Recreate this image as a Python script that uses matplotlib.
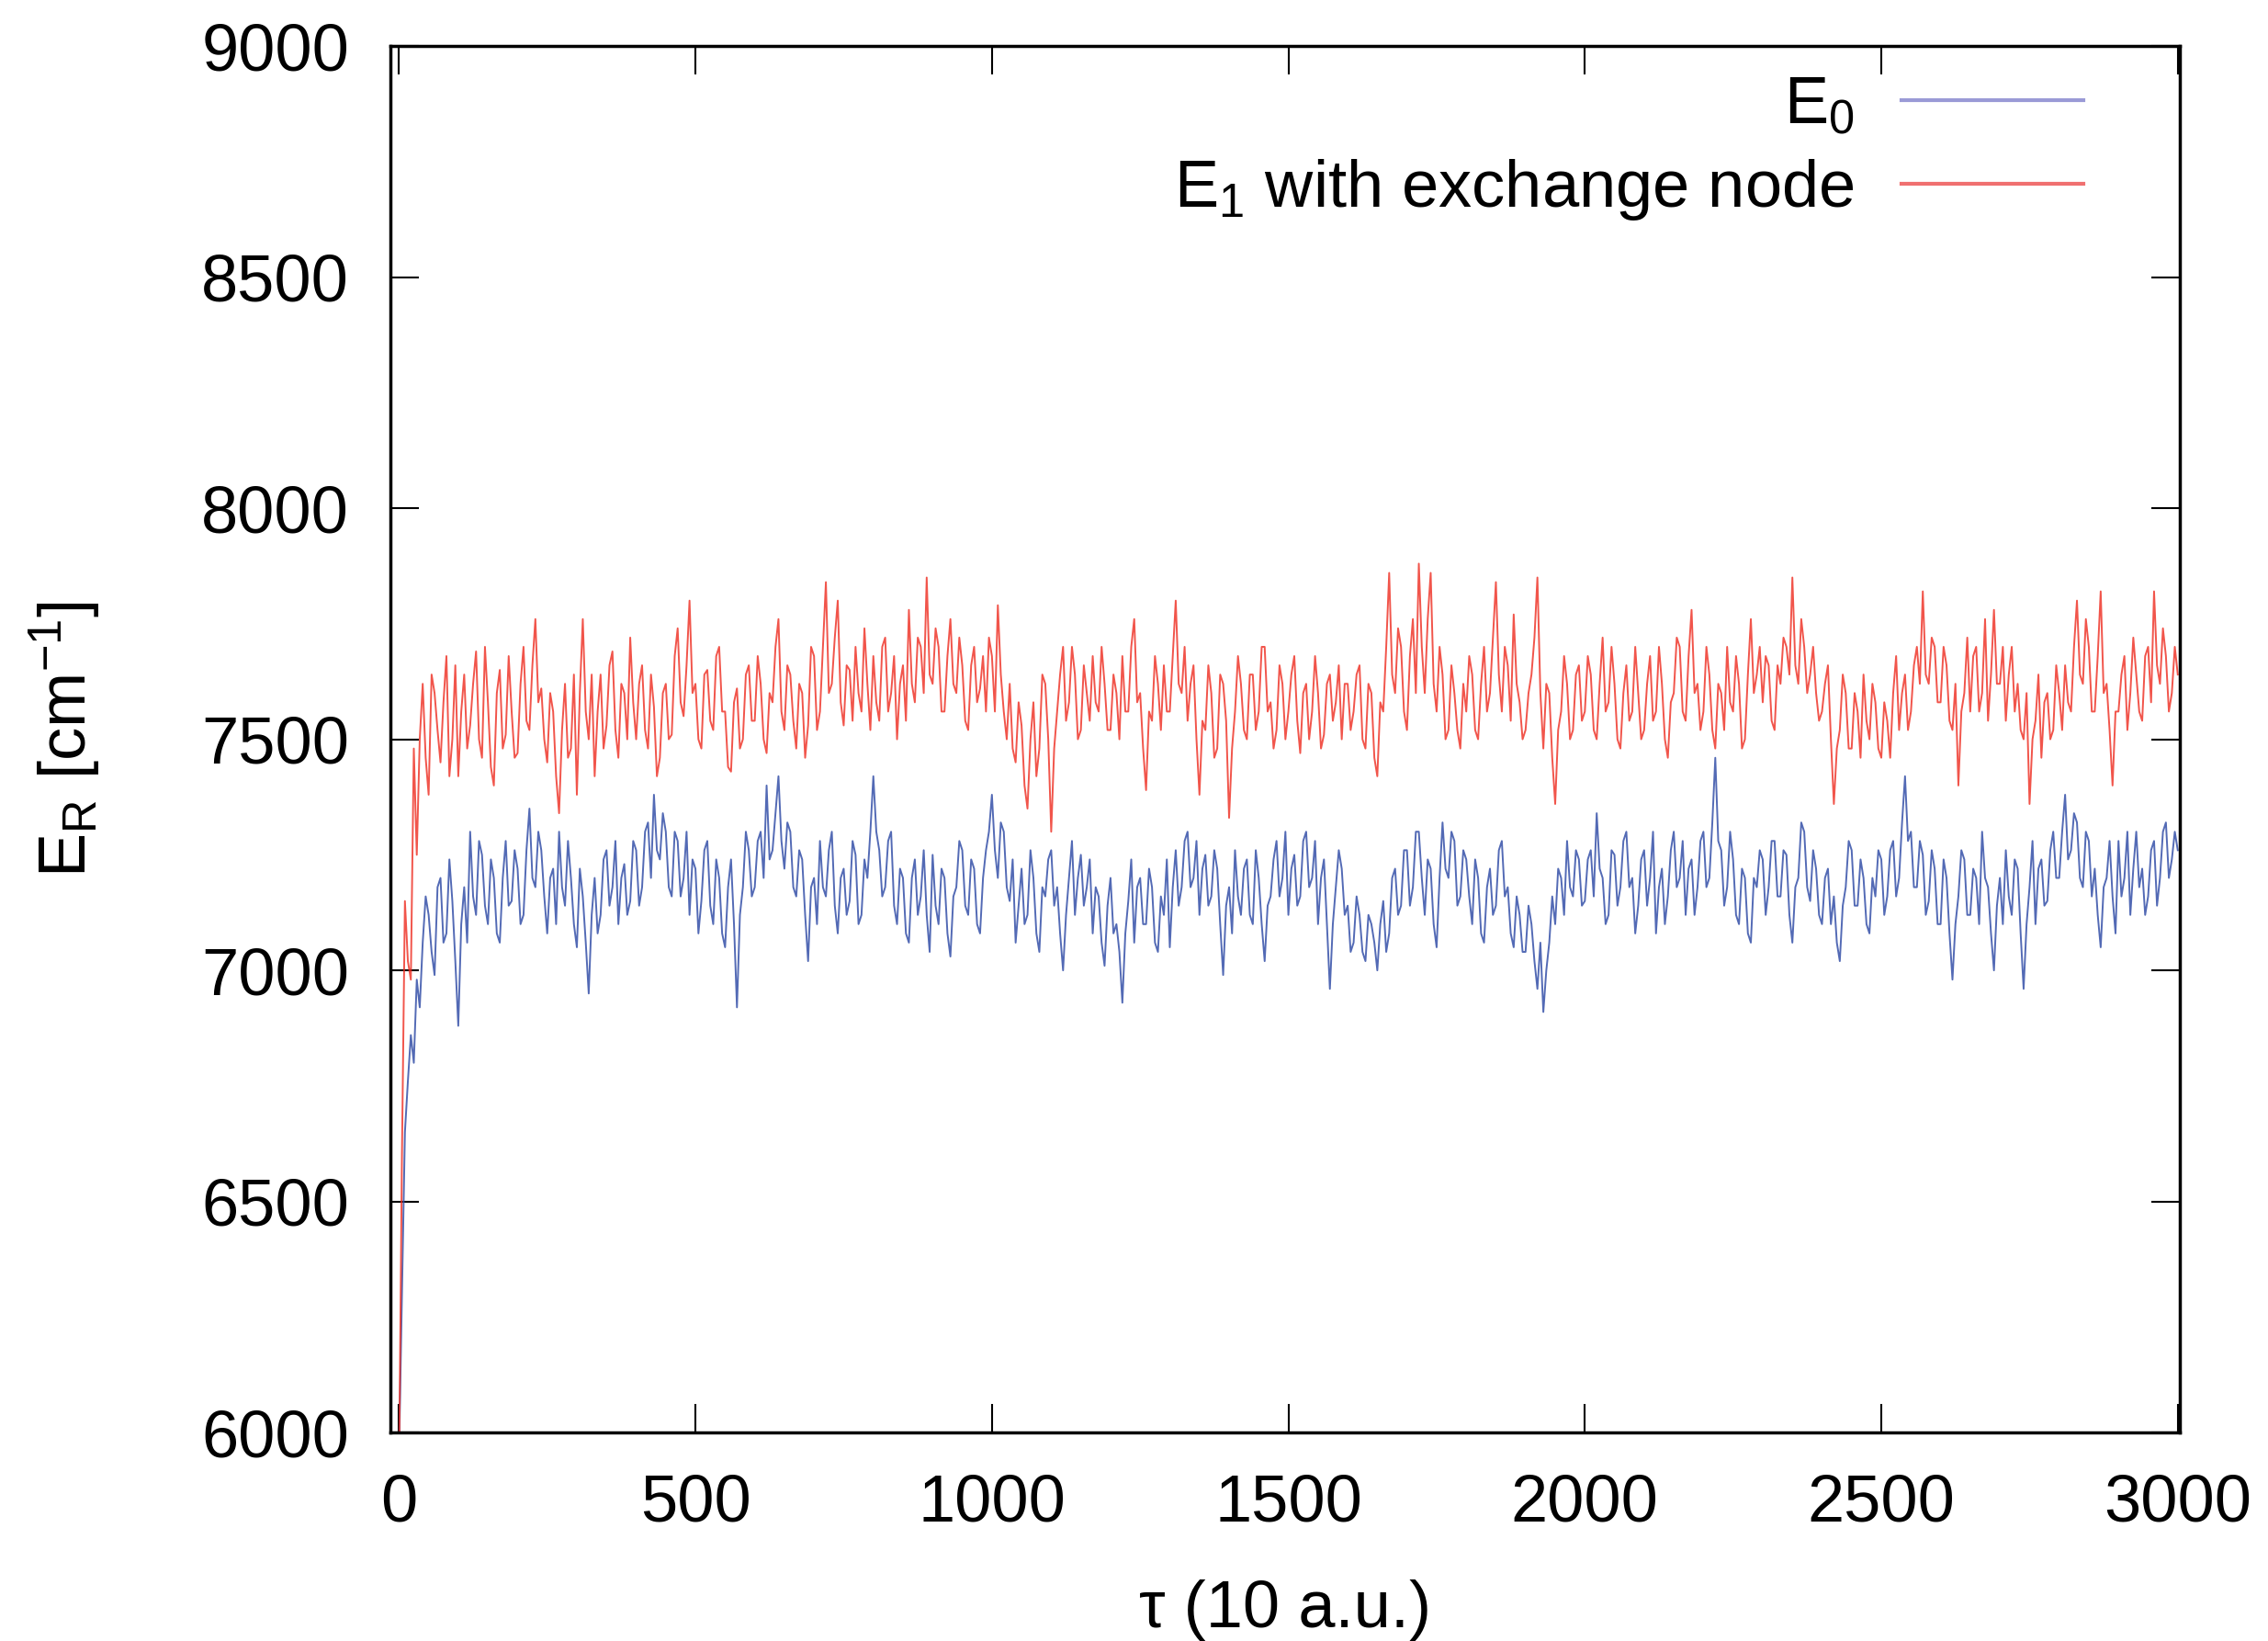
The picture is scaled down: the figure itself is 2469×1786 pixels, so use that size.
import matplotlib.pyplot as plt
from matplotlib.lines import Line2D

plt.rcParams['font.family'] = ['Liberation Sans', 'DejaVu Sans']
plt.rcParams['mathtext.fontset'] = 'custom'
plt.rcParams['mathtext.rm'] = 'Liberation Sans'
plt.rcParams['mathtext.it'] = 'Liberation Sans'

# tau values, one sample every 5 units
tau = list(range(0, 3001, 5))

# E1 with exchange node (red)
e1 = [
    5900, 6600, 7150, 7020, 6980, 7480, 7250, 7500, 7620, 7460, 7380, 7640, 7600, 7520, 7450, 7580, 7680, 7420, 7500, 7660,
    7420, 7560, 7640, 7480, 7530, 7620, 7690, 7500, 7460, 7700, 7580, 7440, 7400, 7600, 7650, 7480, 7510, 7680, 7560, 7460,
    7470, 7620, 7700, 7540, 7520, 7660, 7760, 7580, 7610, 7500, 7450, 7600, 7560, 7420, 7340, 7520, 7620, 7460, 7480, 7640,
    7380, 7600, 7760, 7560, 7500, 7640, 7420, 7560, 7640, 7480, 7530, 7660, 7690, 7520, 7460, 7620, 7600, 7500, 7720, 7580,
    7500, 7620, 7660, 7520, 7480, 7640, 7570, 7420, 7460, 7600, 7620, 7500, 7510, 7680, 7740, 7580, 7550, 7660, 7800, 7600,
    7620, 7500, 7480, 7640, 7650, 7540, 7520, 7680, 7700, 7560, 7560, 7440, 7430, 7580, 7610, 7480, 7500, 7640, 7660, 7540,
    7540, 7680, 7620, 7500, 7470, 7600, 7580, 7700, 7760, 7560, 7520, 7660, 7640, 7540, 7480, 7620, 7600, 7460, 7530, 7700,
    7680, 7520, 7560, 7700, 7840, 7600, 7620, 7720, 7800, 7580, 7530, 7660, 7650, 7540, 7700, 7600, 7560, 7740, 7620, 7520,
    7680, 7580, 7540, 7700, 7720, 7560, 7600, 7680, 7500, 7620, 7660, 7540, 7780, 7620, 7580, 7720, 7700, 7600, 7850, 7640,
    7620, 7740, 7700, 7560, 7560, 7680, 7760, 7620, 7600, 7720, 7660, 7540, 7520, 7660, 7700, 7580, 7610, 7680, 7560, 7720,
    7680, 7560, 7790, 7640, 7560, 7500, 7620, 7480, 7450, 7580, 7530, 7400, 7350, 7500, 7580, 7420, 7480, 7640, 7620, 7500,
    7300, 7480, 7560, 7640, 7700, 7540, 7580, 7700, 7640, 7500, 7520, 7660, 7600, 7540, 7680, 7580, 7560, 7700, 7620, 7520,
    7520, 7640, 7600, 7500, 7680, 7560, 7560, 7700, 7760, 7580, 7600, 7480, 7390, 7560, 7540, 7680, 7620, 7520, 7660, 7560,
    7560, 7680, 7800, 7620, 7600, 7700, 7540, 7620, 7660, 7500, 7380, 7540, 7520, 7660, 7600, 7460, 7480, 7640, 7620, 7540,
    7330, 7480, 7560, 7680, 7620, 7520, 7500, 7640, 7640, 7520, 7560, 7700, 7700, 7560, 7580, 7480, 7520, 7660, 7620, 7500,
    7560, 7640, 7680, 7540, 7470, 7600, 7620, 7500, 7560, 7680, 7600, 7480, 7510, 7620, 7640, 7540, 7580, 7660, 7500, 7620,
    7620, 7520, 7560, 7640, 7660, 7500, 7480, 7620, 7600, 7460, 7420, 7580, 7560, 7700, 7860, 7640, 7600, 7740, 7700, 7560,
    7520, 7680, 7760, 7600, 7880, 7700, 7600, 7760, 7860, 7620, 7560, 7700, 7640, 7500, 7520, 7660, 7600, 7520, 7480, 7620,
    7560, 7680, 7640, 7520, 7500, 7620, 7700, 7560, 7600, 7720, 7840, 7640, 7560, 7700, 7660, 7540, 7770, 7620, 7580, 7500,
    7520, 7600, 7640, 7720, 7850, 7600, 7480, 7620, 7600, 7460, 7360, 7520, 7560, 7680, 7620, 7500, 7520, 7640, 7660, 7540,
    7560, 7680, 7640, 7520, 7500, 7620, 7720, 7560, 7580, 7700, 7620, 7500, 7480, 7600, 7660, 7540, 7560, 7700, 7600, 7500,
    7520, 7620, 7680, 7540, 7560, 7700, 7620, 7500, 7460, 7580, 7600, 7720, 7700, 7560, 7540, 7680, 7780, 7600, 7620, 7520,
    7560, 7700, 7640, 7520, 7480, 7620, 7600, 7520, 7700, 7580, 7560, 7680, 7620, 7480, 7500, 7640, 7760, 7600, 7640, 7700,
    7580, 7680, 7660, 7540, 7520, 7660, 7620, 7720, 7700, 7640, 7850, 7660, 7620, 7760, 7700, 7600, 7640, 7700, 7600, 7540,
    7560, 7620, 7660, 7500, 7360, 7480, 7520, 7640, 7600, 7480, 7480, 7600, 7560, 7460, 7640, 7540, 7500, 7620, 7580, 7480,
    7460, 7580, 7540, 7460, 7600, 7680, 7520, 7600, 7640, 7520, 7560, 7660, 7700, 7620, 7820, 7640, 7620, 7720, 7700, 7580,
    7580, 7700, 7660, 7540, 7520, 7620, 7400, 7560, 7600, 7720, 7560, 7680, 7700, 7560, 7600, 7760, 7540, 7640, 7780, 7620,
    7620, 7700, 7540, 7640, 7700, 7560, 7620, 7520, 7500, 7600, 7360, 7500, 7540, 7640, 7460, 7580, 7600, 7500, 7520, 7660,
    7600, 7520, 7660, 7580, 7560, 7700, 7800, 7640, 7620, 7760, 7700, 7560, 7560, 7680, 7820, 7600, 7620, 7520, 7400, 7560,
    7560, 7640, 7680, 7520, 7600, 7720, 7640, 7560, 7540, 7680, 7700, 7580, 7820, 7660, 7620, 7740, 7680, 7560, 7600, 7700,
    7640,
]

# E0 (blue)
e0 = [
    5950, 6300, 6650, 6760, 6860, 6800, 6980, 6920, 7060, 7160, 7120, 7040, 6990, 7180, 7200, 7060, 7080, 7240, 7150, 7020,
    6880, 7100, 7180, 7060, 7300, 7160, 7120, 7280, 7250, 7140, 7100, 7240, 7200, 7080, 7060, 7200, 7280, 7140, 7150, 7260,
    7220, 7100, 7120, 7260, 7350, 7200, 7180, 7300, 7260, 7160, 7080, 7200, 7220, 7100, 7300, 7180, 7140, 7280, 7200, 7100,
    7050, 7220, 7160, 7060, 6950, 7120, 7200, 7080, 7120, 7240, 7260, 7140, 7180, 7280, 7100, 7200, 7230, 7120, 7150, 7280,
    7260, 7140, 7180, 7300, 7320, 7200, 7380, 7260, 7240, 7340, 7300, 7180, 7160, 7300, 7280, 7160, 7200, 7300, 7120, 7240,
    7220, 7080, 7150, 7260, 7280, 7140, 7100, 7240, 7200, 7080, 7050, 7180, 7240, 7100, 6920, 7120, 7180, 7300, 7260, 7160,
    7180, 7280, 7300, 7200, 7400, 7240, 7260, 7340, 7420, 7280, 7220, 7320, 7300, 7180, 7160, 7260, 7240, 7120, 7020, 7180,
    7200, 7100, 7280, 7180, 7160, 7260, 7300, 7140, 7080, 7200, 7220, 7120, 7150, 7280, 7250, 7100, 7120, 7240, 7200, 7300,
    7420, 7300, 7260, 7160, 7180, 7280, 7300, 7140, 7100, 7220, 7200, 7080, 7060, 7200, 7240, 7120, 7160, 7260, 7120, 7040,
    7250, 7140, 7100, 7220, 7200, 7080, 7030, 7160, 7180, 7280, 7260, 7140, 7120, 7240, 7220, 7100, 7080, 7200, 7260, 7300,
    7380, 7260, 7200, 7320, 7300, 7180, 7150, 7240, 7060, 7140, 7220, 7100, 7120, 7260, 7200, 7080, 7040, 7180, 7160, 7240,
    7260, 7140, 7180, 7080, 7000, 7120, 7200, 7280, 7120, 7200, 7250, 7140, 7180, 7240, 7080, 7180, 7160, 7060, 7010, 7140,
    7200, 7080, 7100, 7040, 6930, 7080, 7150, 7240, 7060, 7180, 7200, 7100, 7100, 7220, 7180, 7060, 7040, 7160, 7120, 7240,
    7050, 7180, 7260, 7140, 7180, 7280, 7300, 7180, 7200, 7280, 7120, 7220, 7250, 7140, 7160, 7260, 7220, 7100, 6990, 7140,
    7180, 7080, 7260, 7160, 7120, 7220, 7240, 7120, 7100, 7260, 7200, 7100, 7020, 7140, 7160, 7240, 7280, 7160, 7200, 7300,
    7120, 7220, 7250, 7140, 7160, 7280, 7300, 7180, 7200, 7280, 7100, 7200, 7240, 7100, 6960, 7100, 7180, 7260, 7220, 7120,
    7140, 7040, 7060, 7160, 7120, 7040, 7020, 7120, 7100, 7060, 7000, 7100, 7150, 7040, 7080, 7200, 7220, 7120, 7140, 7260,
    7260, 7140, 7180, 7300, 7300, 7200, 7120, 7240, 7220, 7100, 7050, 7200, 7320, 7220, 7200, 7300, 7280, 7140, 7160, 7260,
    7240, 7160, 7100, 7240, 7200, 7080, 7060, 7180, 7220, 7120, 7140, 7260, 7280, 7160, 7180, 7080, 7050, 7160, 7120, 7040,
    7040, 7140, 7100, 7020, 6960, 7060, 6910, 7000, 7060, 7160, 7100, 7220, 7200, 7120, 7280, 7180, 7160, 7260, 7240, 7140,
    7150, 7240, 7260, 7160, 7340, 7220, 7200, 7100, 7120, 7260, 7250, 7140, 7180, 7280, 7300, 7180, 7200, 7080, 7140, 7240,
    7260, 7140, 7200, 7300, 7080, 7180, 7220, 7100, 7160, 7260, 7300, 7180, 7200, 7280, 7120, 7220, 7240, 7120, 7180, 7280,
    7300, 7180, 7200, 7320, 7460, 7280, 7260, 7140, 7180, 7300, 7240, 7120, 7100, 7220, 7200, 7080, 7060, 7200, 7180, 7260,
    7240, 7120, 7180, 7280, 7280, 7160, 7160, 7260, 7250, 7120, 7060, 7180, 7200, 7320, 7300, 7180, 7150, 7260, 7220, 7120,
    7100, 7200, 7220, 7100, 7160, 7060, 7020, 7140, 7180, 7280, 7260, 7140, 7140, 7240, 7200, 7100, 7080, 7200, 7160, 7260,
    7240, 7120, 7160, 7260, 7280, 7160, 7200, 7320, 7420, 7280, 7300, 7180, 7180, 7280, 7250, 7120, 7150, 7260, 7220, 7100,
    7100, 7240, 7200, 7080, 6980, 7100, 7160, 7260, 7240, 7120, 7120, 7220, 7200, 7100, 7300, 7200, 7180, 7080, 7000, 7140,
    7200, 7100, 7260, 7160, 7120, 7240, 7220, 7080, 6960, 7100, 7180, 7280, 7100, 7220, 7240, 7140, 7150, 7260, 7300, 7200,
    7200, 7300, 7380, 7240, 7260, 7340, 7320, 7200, 7180, 7300, 7280, 7160, 7220, 7120, 7050, 7180, 7200, 7280, 7160, 7080,
    7280, 7160, 7200, 7300, 7120, 7220, 7300, 7180, 7220, 7120, 7160, 7260, 7280, 7140, 7200, 7300, 7320, 7200, 7240, 7300,
    7260,
]

fig = plt.figure(figsize=(24.69, 17.86), dpi=100)
ax = fig.add_axes([0.172, 0.127, 0.789, 0.845])

ax.plot(tau, e0, color='#3550a8', lw=1.4, alpha=0.85)
ax.plot(tau, e1, color='#ee2a1e', lw=1.4, alpha=0.8)

ax.set_xlim(-15, 3003)
ax.set_ylim(6000, 9000)
ax.set_xticks([0, 500, 1000, 1500, 2000, 2500, 3000])
ax.set_yticks([6000, 6500, 7000, 7500, 8000, 8500, 9000])
ax.tick_params(direction='in', length=22, width=1.5, labelsize=52,
               top=True, right=True, pad=32)
for s in ax.spines.values():
    s.set_linewidth(2.5)

ax.set_xlabel('τ (10 a.u.)', fontsize=52, labelpad=35)
ax.set_ylabel(r'E$_\mathrm{R}$ [cm$^{-1}$]', fontsize=52, labelpad=77)

handles = [Line2D([], [], color='#9a9ad6', lw=3),
           Line2D([], [], color='#f07070', lw=3)]
ax.legend(handles, [r'E$_0$', r'E$_1$ with exchange node'],
          loc='upper right', frameon=False, fontsize=52, markerfirst=False,
          handlelength=2.75, handletextpad=0.7, borderaxespad=0,
          borderpad=0.45, labelspacing=0.3, bbox_to_anchor=(0.963, 1.0))

fig.savefig('out.png', dpi=100)
